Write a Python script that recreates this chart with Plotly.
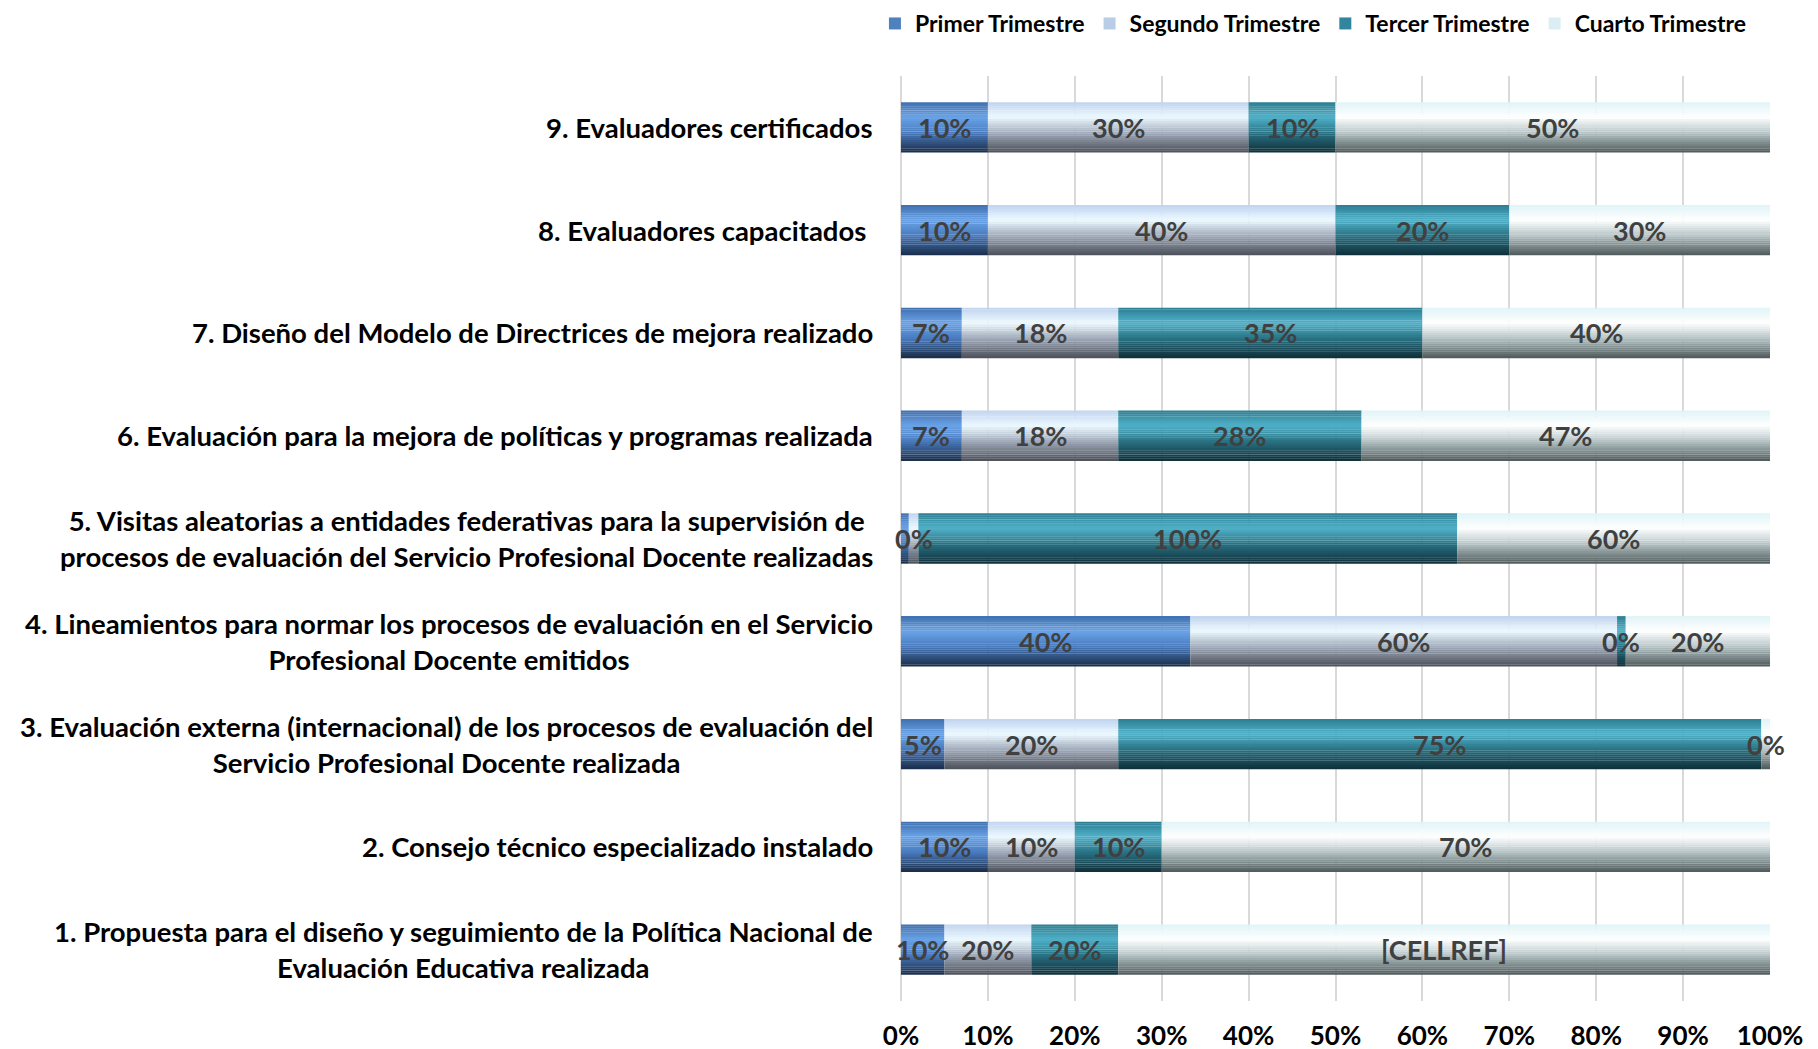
import plotly.graph_objects as go

categories = [
    "1. Propuesta para el diseño y seguimiento de la Política Nacional de<br>Evaluación Educativa realizada",
    "2. Consejo técnico especializado instalado",
    "3. Evaluación externa (internacional) de los procesos de evaluación del<br>Servicio Profesional Docente realizada",
    "4. Lineamientos para normar los procesos de evaluación en el Servicio<br>Profesional Docente emitidos",
    "5. Visitas aleatorias a entidades federativas para la supervisión de<br>procesos de evaluación del Servicio Profesional Docente realizadas",
    "6. Evaluación para la mejora de políticas y programas realizada",
    "7. Diseño del Modelo de Directrices de mejora realizado",
    "8. Evaluadores capacitados ",
    "9. Evaluadores certificados",
]

series_names = ["Primer Trimestre", "Segundo Trimestre", "Tercer Trimestre", "Cuarto Trimestre"]

# share of each bar (percent of bar length)
primer = [5, 10, 5, 33.3, 0.9, 7, 7, 10, 10]
segundo = [10, 10, 20, 49.1, 1.1, 18, 18, 40, 30]
tercer = [10, 10, 74, 1.0, 62, 28, 35, 20, 10]
cuarto = [75, 70, 1, 16.6, 36, 47, 40, 30, 50]

# data label texts
primer_lbl = ["10%", "10%", "5%", "40%", "", "7%", "7%", "10%", "10%"]
segundo_lbl = ["20%", "10%", "20%", "60%", "0%", "18%", "18%", "40%", "30%"]
tercer_lbl = ["20%", "10%", "75%", "0%", "100%", "28%", "35%", "20%", "10%"]
cuarto_lbl = ["[CELLREF]", "70%", "0%", "20%", "60%", "47%", "40%", "30%", "50%"]

x_ticks = [0, 10, 20, 30, 40, 50, 60, 70, 80, 90, 100]
x_tick_text = ["0%", "10%", "20%", "30%", "40%", "50%", "60%", "70%", "80%", "90%", "100%"]

values = [primer, segundo, tercer, cuarto]
labels = [primer_lbl, segundo_lbl, tercer_lbl, cuarto_lbl]

legend_colors = ["#4f81bd", "#b9cde5", "#31859c", "#dbeef4"]
# gradient stops (top, light, mid, dark bottom)
grad = [
    ["#3f6fae", "#6aa3e8", "#4a7cbf", "#1a2c47"],
    ["#bfd3ef", "#ecf9ff", "#a3adbd", "#4a4f58"],
    ["#2c7d91", "#50b1c9", "#2a7486", "#0f2e38"],
    ["#dff3f8", "#ffffff", "#b8c6c8", "#4d5859"],
]
stops = [0.0, 0.3, 0.6, 1.0]


def hex2rgb(h):
    h = h.lstrip("#")
    return [int(h[i:i + 2], 16) for i in (0, 2, 4)]


def interp(cols, t):
    for i in range(len(stops) - 1):
        if stops[i] <= t <= stops[i + 1]:
            f = (t - stops[i]) / (stops[i + 1] - stops[i])
            a, b = hex2rgb(cols[i]), hex2rgb(cols[i + 1])
            c = [round(a[j] + (b[j] - a[j]) * f) for j in range(3)]
            return "rgb(%d,%d,%d)" % tuple(c)
    return cols[-1]


FONT = "Lato"
BAR_W = 0.49
N = 24

fig = go.Figure()

bases = [0.0] * len(categories)
label_x = []
for s, vals in enumerate(values):
    b = list(bases)
    label_x.append([b[i] + vals[i] / 2 for i in range(len(vals))])
    for k in range(N):
        frac_bottom = (k + 0.5) / N
        col = interp(grad[s], 1 - frac_bottom)
        fig.add_trace(go.Bar(
            orientation="h",
            y=categories,
            x=vals,
            base=b,
            offset=-BAR_W / 2 + k * BAR_W / N,
            width=BAR_W / N + (0.002 if k < N - 1 else 0),
            marker=dict(color=col, line=dict(width=0)),
            showlegend=False,
            hoverinfo="skip",
        ))
    bases = [bases[i] + vals[i] for i in range(len(vals))]

for s, name in enumerate(series_names):
    fig.add_trace(go.Bar(
        orientation="h", x=[None], y=[None], name=name,
        marker=dict(color=legend_colors[s], line=dict(width=0)),
        showlegend=True,
    ))

annotations = []
# data labels
for s in range(4):
    for i in range(len(categories)):
        if labels[s][i] == "":
            continue
        annotations.append(dict(
            x=label_x[s][i], xref="x", y=i, yref="y",
            xanchor="center", yanchor="middle",
            text=labels[s][i], showarrow=False,
            font=dict(family=FONT, size=27, color="#404040", weight="bold"),
        ))
# category labels
for i, c in enumerate(categories):
    annotations.append(dict(
        x=0, xref="paper", xanchor="right", xshift=-26,
        y=i, yref="y", yanchor="middle",
        text=c, showarrow=False, align="center",
        font=dict(family=FONT, size=27.5, color="#000000", weight="bold"),
    ))

fig.update_layout(
    width=1818, height=1049,
    margin=dict(l=893, r=56, t=68, b=56, autoexpand=False),
    paper_bgcolor="white", plot_bgcolor="white",
    barmode="overlay",
    annotations=annotations,
    legend=dict(
        orientation="h", x=-0.03, xanchor="left", y=1.08, yanchor="top",
        font=dict(family=FONT, size=23, color="#000000", weight="bold"),
        traceorder="normal", itemwidth=30,
    ),
    xaxis=dict(
        range=[0, 100], tickvals=x_ticks, ticktext=x_tick_text,
        showgrid=True, gridcolor="#d9d9d9", gridwidth=2,
        zeroline=True, zerolinecolor="#d9d9d9", zerolinewidth=2,
        showline=False, ticks="outside", ticklen=12, tickcolor="rgba(0,0,0,0)",
        tickfont=dict(family=FONT, size=26, color="#000000", weight="bold"),
    ),
    yaxis=dict(
        type="category", categoryorder="array", categoryarray=categories,
        range=[-0.5, len(categories) - 0.5],
        showgrid=False, showticklabels=False, zeroline=False, showline=False,
    ),
)

fig.write_html("out.html")
